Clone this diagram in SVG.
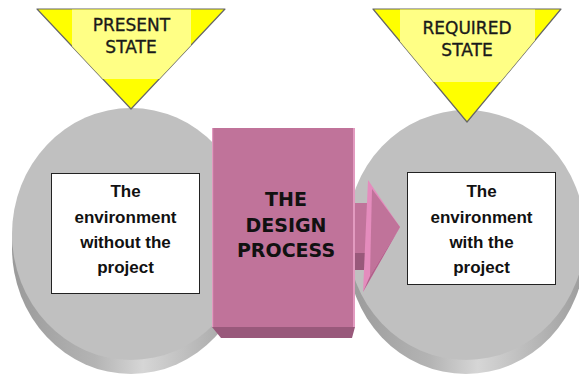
<svg xmlns="http://www.w3.org/2000/svg" width="579" height="376" viewBox="0 0 579 376">
<defs>
<linearGradient id="side" x1="0" y1="0" x2="1" y2="0">
<stop offset="0" stop-color="#9a9a9a"/>
<stop offset="0.35" stop-color="#b4b4b4"/>
<stop offset="0.55" stop-color="#d6d6d6"/>
<stop offset="0.8" stop-color="#b6b6b6"/>
<stop offset="1" stop-color="#9c9c9c"/>
</linearGradient>
<clipPath id="triL"><polygon points="37,9 225,9 131,109"/></clipPath>
<clipPath id="triR"><polygon points="373,9 561,9 467,122"/></clipPath>
<style>
.face{fill:#c0c0c0}
.side{fill:url(#side)}
.box{fill:#ffffff;stroke:#222;stroke-width:1}
.env{font-family:"Liberation Sans",Arial,sans-serif;font-weight:bold;font-size:17px;fill:#111;text-anchor:middle}
.st{font-family:"DejaVu Sans",Verdana,sans-serif;font-size:17px;fill:#1a1a1a;stroke:#1a1a1a;stroke-width:0.35;text-anchor:middle}
.dp{font-family:"DejaVu Sans",sans-serif;font-weight:bold;font-size:19px;fill:#111;text-anchor:middle}
.pink{fill:#c0739a}
.dark{fill:#99597b}
.light{fill:#e48cbd}
.tri{fill:#ffff00;stroke:#666;stroke-width:1.2;stroke-linejoin:round}
.pale{fill:#ffff85}
</style>
</defs>

<g id="required-disc">
<ellipse class="side" cx="466" cy="249" rx="119" ry="125"/>
<ellipse class="face" cx="466" cy="235" rx="119" ry="125"/>
</g>
<g id="present-disc">
<ellipse class="side" cx="131" cy="248" rx="119" ry="126"/>
<ellipse class="face" cx="131" cy="234" rx="119" ry="126"/>
</g>

<g id="design-process">
<polygon class="dark" points="212,327 355,327 352,338 221,338"/>
<rect class="pink" x="212" y="128" width="143" height="199"/>
<rect x="212" y="128" width="1.2" height="199" fill="#e29bc0"/>
<rect x="353" y="128" width="2" height="199" fill="#e29bc0"/>
<text class="dp" x="286" y="206">THE</text>
<text class="dp" x="286" y="232">DESIGN</text>
<text class="dp" x="286" y="257">PROCESS</text>
</g>

<g id="connectors">
<rect class="dark" x="355" y="253" width="15" height="17"/>
<rect class="pink" x="355" y="203" width="16" height="50"/>
<polygon class="light" points="368,180 400,227 363,292"/>
<polygon class="pink" points="372,189 400,227 370,276"/>
<polygon fill="#b0628a" points="400,227 363,292 370,276"/>
</g>

<g id="present-env">
<rect class="box" x="51.5" y="173.5" width="148" height="120"/>
<text class="env" x="125.5" y="197">The</text>
<text class="env" x="125.5" y="223">environment</text>
<text class="env" x="125.5" y="248">without the</text>
<text class="env" x="125.5" y="273">project</text>
</g>

<g id="required-env">
<rect class="box" x="407.5" y="172.5" width="148" height="112"/>
<text class="env" x="481.5" y="197">The</text>
<text class="env" x="481.5" y="223">environment</text>
<text class="env" x="481.5" y="248">with the</text>
<text class="env" x="481.5" y="273">project</text>
</g>

<g id="present-state">
<polygon class="tri" points="37,9 225,9 131,109"/>
<rect class="pale" x="72" y="9.6" width="119" height="69.4" clip-path="url(#triL)"/>
<text class="st" x="131.5" y="31">PRESENT</text>
<text class="st" x="131" y="53">STATE</text>
</g>

<g id="required-state">
<polygon class="tri" points="373,9 561,9 467,122"/>
<rect class="pale" x="400" y="9.6" width="135" height="72.4" clip-path="url(#triR)"/>
<text class="st" x="467" y="34">REQUIRED</text>
<text class="st" x="467" y="56">STATE</text>
</g>
</svg>
